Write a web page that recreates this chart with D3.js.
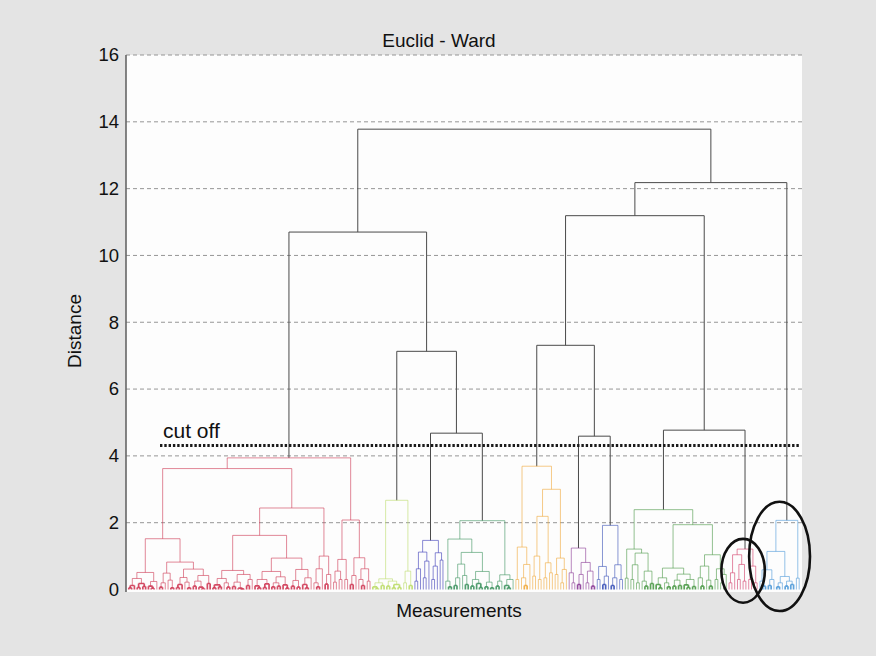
<!DOCTYPE html>
<html><head><meta charset="utf-8">
<script src="https://cdn.jsdelivr.net/npm/d3@7"></script>
<style>html,body{margin:0;padding:0;background:#e4e4e4;}svg{display:block;}</style>
</head><body>
<svg id="chart" width="876" height="656"></svg>
<script>
// ---- DATA: dendrogram (node = [mergeHeight, child, child], leaf = 0) ----
const redCluster = [3.94,
 [3.62,
  [1.52,
   [0.51,[0.33,[0.12,[0.05,0,0],0],[0.18,[0.06,0,0],[0.09,0,0]]],[0.24,[0.1,0,[0.04,0,0]],0]],
   [0.82,
    [0.49,[0.2,[0.07,0,0],0],[0.28,0,[0.05,0,0]]],
    [0.61,[0.36,[0.15,[0.06,0,0],0],[0.22,0,[0.05,0,0]]],[0.42,[0.25,[0.1,0,0],[0.07,0,[0.03,0,0]]],[0.18,0,0]]]]],
  [2.44,
   [1.62,
    [0.57,[0.33,[0.14,[0.05,0,0],[0.08,0,0]],[0.2,0,[0.07,0,0]]],[0.45,[0.22,[0.09,0,0],[0.04,0,[0.02,0,0]]],[0.3,[0.12,0,0],0]]],
    [0.94,
     [0.54,[0.3,[0.11,0,[0.05,0,0]],[0.17,[0.06,0,0],0]],[0.38,[0.2,[0.08,0,0],[0.1,0,0]],[0.14,0,[0.04,0,0]]]],
     [0.6,[0.27,[0.1,0,0],[0.07,0,0]],[0.35,[0.15,0,[0.05,0,0]],0]]]],
   [1.0,[0.62,[0.2,0,[0.08,0,0]],0],[0.45,[0.16,0,0],0]]]],
 [2.08,
  [0.9,[0.55,[0.22,0,0],[0.3,0,0]],[0.3,0,0]],
  [0.95,[0.42,[0.15,0,0],0],[0.62,[0.3,0,[0.12,0,0]],[0.25,0,0]]]]];

const limeCluster = [2.67,
 [0.32,[0.2,[0.08,0,[0.03,0,0]],[0.12,0,0]],[0.25,[0.1,0,0],[0.15,[0.05,0,0],[0.06,0,0]]]],
 [0.55,[0.2,0,0],[0.12,0,0]]];

const blue1Cluster = [1.47,
 [1.12,[0.62,[0.25,0,0],0],[0.85,[0.35,0,0],0]],
 [1.1,[0.7,[0.3,0,0],0],[0.88,0,0]]];

const green1Cluster = [2.06,
 [1.51,
  [0.25,0,[0.08,0,0]],
  [1.11,
   [0.76,[0.35,[0.12,0,0],0],[0.42,0,[0.15,0,0]]],
   [0.54,[0.3,[0.1,0,0],[0.18,0,[0.06,0,0]]],[0.22,[0.08,0,0],[0.05,0,0]]]]],
 [0.44,[0.25,[0.1,0,0],0],[0.3,[0.12,0,[0.05,0,0]],0]]];

const orangeCluster = [3.69,
 [1.27,[0.3,0,0],[0.75,[0.35,0,[0.12,0,0]],0]],
 [3.0,
  [2.19,[1.0,[0.4,0,0],[0.3,0,0]],[0.8,[0.35,0,0],[0.5,0,0]]],
  [0.94,[0.45,0,0],[0.6,[0.2,0,0],0]]]];

const purpleCluster = [1.24,
 [0.5,0,[0.2,0,0]],
 [0.81,[0.45,[0.15,0,0],0],[0.55,[0.2,0,0],[0.1,0,0]]]];

const blue2Cluster = [1.92,
 [0.69,[0.3,0,0],[0.4,[0.15,0,0],0]],
 [0.74,[0.35,[0.12,0,0],0],[0.3,0,0]]];

const green2Cluster = [2.39,
 [1.21,
  [0.34,0,0],
  [1.09,[0.74,[0.3,0,0],[0.2,0,0]],[0.55,[0.25,0,[0.1,0,0]],[0.18,0,0]]]],
 [1.94,
  [0.64,
   [0.35,[0.15,0,[0.05,0,0]],[0.2,0,[0.08,0,0]]],
   [0.46,[0.28,[0.1,0,0],[0.12,0,0]],[0.3,[0.14,0,[0.06,0,0]],[0.09,0,0]]]],
  [1.04,[0.7,[0.35,0,[0.1,0,0]],[0.28,0,[0.1,0,0]]],[0.62,[0.3,0,0],[0.45,[0.2,0,0],0]]]]];

const pinkCluster = [1.21,
 [1.04,[0.5,[0.2,0,0],0],[0.75,[0.3,0,0],[0.25,0,0]]],
 [0.7,[0.3,0,0],[0.2,0,0]]];

const cyanCluster = [2.07,
 [1.14,
  [0.59,[0.25,0,[0.1,0,0]],[0.3,[0.12,0,0],0]],
  [0.39,[0.2,[0.08,0,0],0],[0.25,[0.1,0,0],[0.15,0,0]]]],
 [0.34,0,0]];

// upper linkage (above the cut-off)
const linkage = [13.78,
 [10.70, redCluster, [7.13, limeCluster, [4.68, blue1Cluster, green1Cluster]]],
 [12.18, [11.19, [7.31, orangeCluster, [4.59, purpleCluster, blue2Cluster]], [4.77, green2Cluster, pinkCluster]], cyanCluster]];

const clusters      = [redCluster, limeCluster, blue1Cluster, green1Cluster, orangeCluster, purpleCluster, blue2Cluster, green2Cluster, pinkCluster, cyanCluster];
const clusterColors = ["#cf3a55", "#bcdc6a", "#3a3ab8", "#3f9460", "#f0a83a", "#8a3a96", "#3a52b8", "#4c9a48", "#d23c68", "#4f9ad8"];
const circledClusters = [pinkCluster, cyanCluster];
const cutOff = 4.31;
const yTicks = [0, 2, 4, 6, 8, 10, 12, 14, 16];
const title = "Euclid - Ward", xLabel = "Measurements", yLabel = "Distance", cutLabel = "cut off";

// ---- LAYOUT ----
const svg = d3.select("#chart");
const L = 126, R = 802, T = 55, B = 589.5;
const FONT = "'Liberation Sans', Arial, sans-serif";

svg.append("rect").attr("width", 876).attr("height", 656).attr("fill", "#e4e4e4");
svg.append("rect").attr("x", L).attr("y", T).attr("width", R - L).attr("height", 592 - T).attr("fill", "#fdfdfd");

const root = d3.hierarchy(linkage, d => Array.isArray(d) ? d.slice(1) : null);
const leaves = root.leaves();
const N = leaves.length;
const x = d3.scaleLinear().domain([0, N + 1]).range([L, R]);
const y = d3.scaleLinear().domain([0, 16]).range([B, T]);

leaves.forEach((lf, i) => { lf.px = x(i + 1); });
root.eachAfter(n => {
  n.h = n.children ? n.data[0] : 0;
  if (n.children) n.px = d3.mean(n.children, c => c.px);
});
const colorOf = new Map(clusters.map((c, i) => [c, clusterColors[i]]));
root.eachBefore(n => {
  if (colorOf.has(n.data)) n.col = colorOf.get(n.data);
  else n.col = n.parent ? n.parent.col : null;
});

// gridlines
svg.append("g").selectAll("line").data(yTicks.filter(t => t > 0)).join("line")
  .attr("x1", L).attr("x2", R).attr("y1", d => y(d)).attr("y2", d => y(d))
  .attr("stroke", "#8a8a8a").attr("stroke-width", 0.9).attr("stroke-dasharray", "4,3");

// links
const internal = root.descendants().filter(n => n.children);
const linkPath = n => {
  const xs = n.children.map(c => c.px);
  let p = `M${d3.min(xs)},${y(n.h)}H${d3.max(xs)}`;
  n.children.forEach(c => { p += `M${c.px},${y(n.h)}V${y(c.h)}`; });
  return p;
};
const inCluster = n => n.h < cutOff && n.col;
svg.append("g").selectAll("path").data(internal).join("path")
  .attr("d", linkPath).attr("fill", "none")
  .attr("stroke", n => inCluster(n) ? n.col : "#4a4a4a")
  .attr("stroke-opacity", n => inCluster(n) ? (n.h < 0.2 ? 0.9 : 0.6) : 1)
  .attr("stroke-width", n => inCluster(n) && n.h < 0.2 ? 1.7 : 1);

// left axis
const axis = d3.axisLeft(y).tickValues(yTicks).tickSize(0).tickPadding(7);
const ag = svg.append("g").attr("transform", `translate(${L},0)`).call(axis);
ag.select(".domain").attr("stroke", "#666").attr("stroke-width", 1.6).attr("d", `M0,${T}V592`);
ag.selectAll("text").attr("font-family", FONT).attr("font-size", 18.5).attr("fill", "#111");

// cut-off line
svg.append("line").attr("x1", 160).attr("x2", R - 2).attr("y1", y(cutOff)).attr("y2", y(cutOff))
  .attr("stroke", "#1a1a1a").attr("stroke-width", 3).attr("stroke-dasharray", "2.4,1.9");
svg.append("text").attr("x", 163).attr("y", y(cutOff) - 8).text(cutLabel)
  .attr("font-family", FONT).attr("font-size", 21).attr("fill", "#111");

// ellipses around selected clusters
circledClusters.forEach(c => {
  const n = root.descendants().find(d => d.data === c);
  const lx = d3.extent(n.leaves(), d => d.px);
  const cx = (lx[0] + lx[1]) / 2, hw = (lx[1] - lx[0]) / 2;
  const cy = (y(0) + y(n.h)) / 2 + 1.5, hh = (y(0) - y(n.h)) / 2;
  svg.append("ellipse").attr("cx", cx).attr("cy", cy).attr("rx", hw * 1.55).attr("ry", hh * 1.58)
    .attr("fill", "none").attr("stroke", "#111").attr("stroke-width", 2.6);
});

// titles
svg.append("text").attr("x", 439).attr("y", 47).attr("text-anchor", "middle").text(title)
  .attr("font-family", FONT).attr("font-size", 19).attr("fill", "#111");
svg.append("text").attr("x", 459).attr("y", 617).attr("text-anchor", "middle").text(xLabel)
  .attr("font-family", FONT).attr("font-size", 19).attr("fill", "#111");
svg.append("text").attr("transform", "translate(81,331) rotate(-90)").attr("text-anchor", "middle").text(yLabel)
  .attr("font-family", FONT).attr("font-size", 19).attr("fill", "#111");
</script>
</body></html>
